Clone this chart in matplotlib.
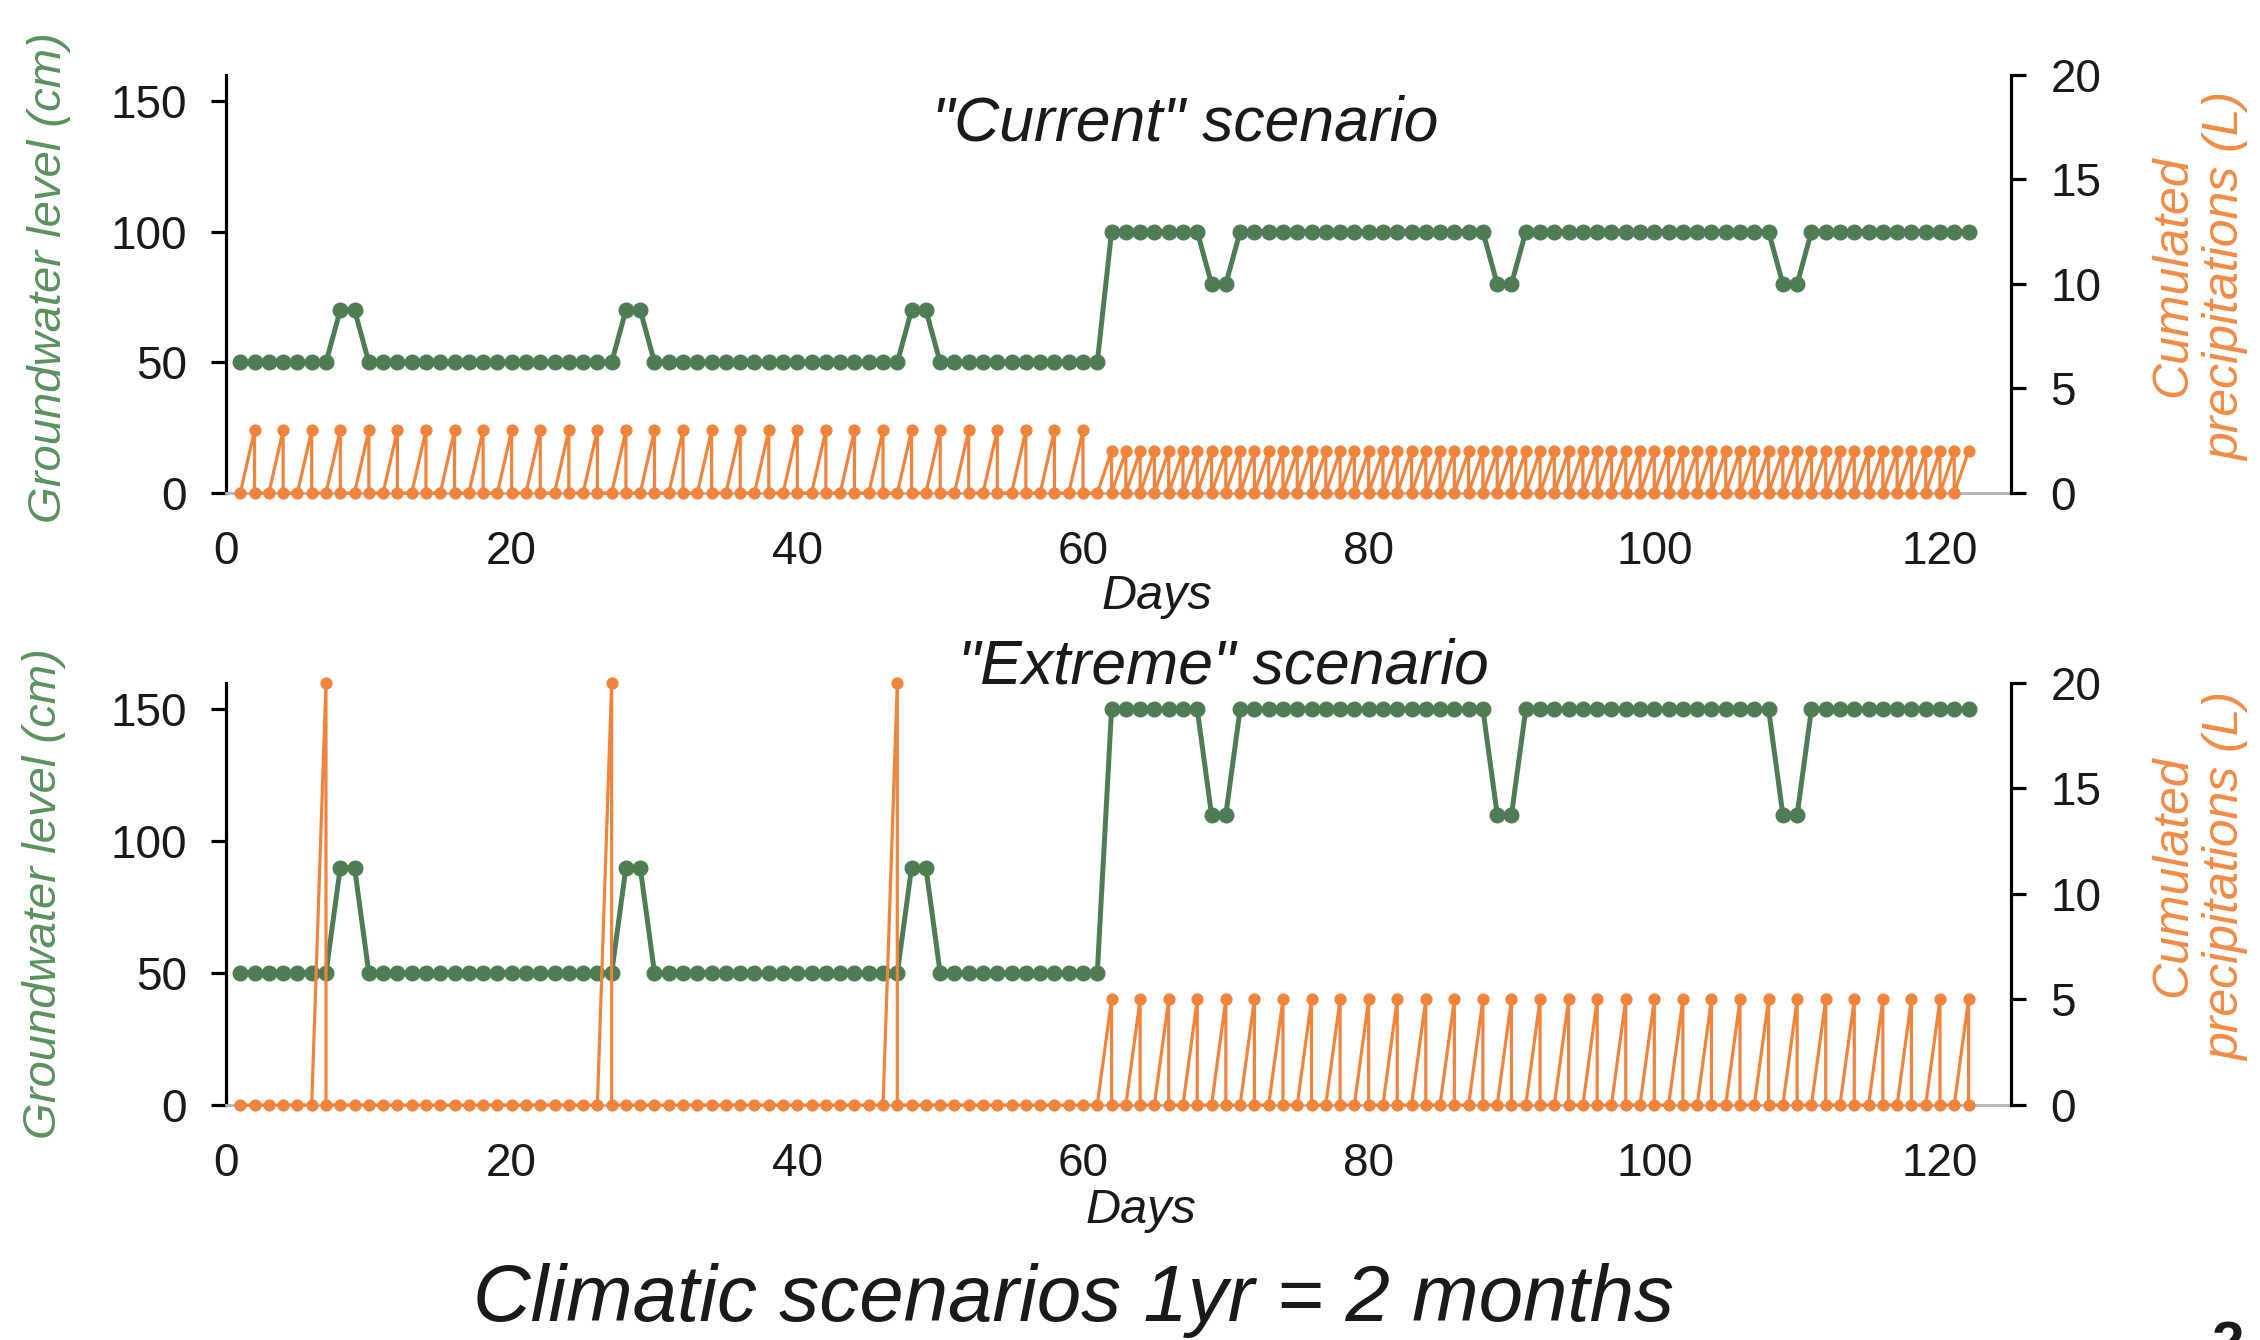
import matplotlib
matplotlib.use('Agg')
import matplotlib.pyplot as plt

plt.rcParams['font.family'] = ['Liberation Sans', 'DejaVu Sans']

# ---------------- data ----------------
days = list(range(1, 123))

current_groundwater = [
    50, 50, 50, 50, 50, 50, 50, 70, 70, 50,
    50, 50, 50, 50, 50, 50, 50, 50, 50, 50,
    50, 50, 50, 50, 50, 50, 50, 70, 70, 50,
    50, 50, 50, 50, 50, 50, 50, 50, 50, 50,
    50, 50, 50, 50, 50, 50, 50, 70, 70, 50,
    50, 50, 50, 50, 50, 50, 50, 50, 50, 50,
    50, 100, 100, 100, 100, 100, 100, 100, 80, 80,
    100, 100, 100, 100, 100, 100, 100, 100, 100, 100,
    100, 100, 100, 100, 100, 100, 100, 100, 80, 80,
    100, 100, 100, 100, 100, 100, 100, 100, 100, 100,
    100, 100, 100, 100, 100, 100, 100, 100, 80, 80,
    100, 100, 100, 100, 100, 100, 100, 100, 100, 100,
    100, 100,
]

current_precip = [
    0, 3, 0, 3, 0, 3, 0, 3, 0, 3,
    0, 3, 0, 3, 0, 3, 0, 3, 0, 3,
    0, 3, 0, 3, 0, 3, 0, 3, 0, 3,
    0, 3, 0, 3, 0, 3, 0, 3, 0, 3,
    0, 3, 0, 3, 0, 3, 0, 3, 0, 3,
    0, 3, 0, 3, 0, 3, 0, 3, 0, 3,
    0, 2, 2, 2, 2, 2, 2, 2, 2, 2,
    2, 2, 2, 2, 2, 2, 2, 2, 2, 2,
    2, 2, 2, 2, 2, 2, 2, 2, 2, 2,
    2, 2, 2, 2, 2, 2, 2, 2, 2, 2,
    2, 2, 2, 2, 2, 2, 2, 2, 2, 2,
    2, 2, 2, 2, 2, 2, 2, 2, 2, 2,
    2, 2,
]

extreme_groundwater = [
    50, 50, 50, 50, 50, 50, 50, 90, 90, 50,
    50, 50, 50, 50, 50, 50, 50, 50, 50, 50,
    50, 50, 50, 50, 50, 50, 50, 90, 90, 50,
    50, 50, 50, 50, 50, 50, 50, 50, 50, 50,
    50, 50, 50, 50, 50, 50, 50, 90, 90, 50,
    50, 50, 50, 50, 50, 50, 50, 50, 50, 50,
    50, 150, 150, 150, 150, 150, 150, 150, 110, 110,
    150, 150, 150, 150, 150, 150, 150, 150, 150, 150,
    150, 150, 150, 150, 150, 150, 150, 150, 110, 110,
    150, 150, 150, 150, 150, 150, 150, 150, 150, 150,
    150, 150, 150, 150, 150, 150, 150, 150, 110, 110,
    150, 150, 150, 150, 150, 150, 150, 150, 150, 150,
    150, 150,
]

extreme_precip = [
    0, 0, 0, 0, 0, 0, 20, 0, 0, 0,
    0, 0, 0, 0, 0, 0, 0, 0, 0, 0,
    0, 0, 0, 0, 0, 0, 20, 0, 0, 0,
    0, 0, 0, 0, 0, 0, 0, 0, 0, 0,
    0, 0, 0, 0, 0, 0, 20, 0, 0, 0,
    0, 0, 0, 0, 0, 0, 0, 0, 0, 0,
    0, 5, 0, 5, 0, 5, 0, 5, 0, 5,
    0, 5, 0, 5, 0, 5, 0, 5, 0, 5,
    0, 5, 0, 5, 0, 5, 0, 5, 0, 5,
    0, 5, 0, 5, 0, 5, 0, 5, 0, 5,
    0, 5, 0, 5, 0, 5, 0, 5, 0, 5,
    0, 5, 0, 5, 0, 5, 0, 5, 0, 5,
    0, 5,
]

x_ticks = [0, 20, 40, 60, 80, 100, 120]
gw_ticks = [0, 50, 100, 150]
pr_ticks = [0, 5, 10, 15, 20]

# ---------------- style ----------------
GREEN = '#4e7d55'
GREEN_TXT = '#5b9161'
ORANGE = '#f0843c'
ORANGE_TXT = '#f28b45'
GRAY = '#b4b4b4'
TXT = '#1a1a1a'
TICK_FS = 33


def reset_path(x, values, reset_last):
    """Cumulated precipitation resets to 0 right after each rain event."""
    xs, ys = [], []
    n = len(x)
    for i, (d, v) in enumerate(zip(x, values)):
        xs.append(d)
        ys.append(v)
        if v > 0 and (i < n - 1 or reset_last):
            xs.append(d)
            ys.append(0)
    return xs, ys


fig = plt.figure(figsize=(22.6, 13.4), dpi=100)


def panel(rect, gw, pr, reset_last):
    ax = fig.add_axes(rect)
    ax.plot(days, gw, color=GREEN, lw=3.6, marker='o', ms=10.5, clip_on=False, zorder=3)
    ax.set_xlim(0, 125)
    ax.set_ylim(0, 160)
    ax.set_xticks(x_ticks)
    ax.set_yticks(gw_ticks)
    for s in ('top', 'right'):
        ax.spines[s].set_visible(False)
    ax.spines['bottom'].set_color(GRAY)
    ax.spines['bottom'].set_linewidth(2.0)
    ax.spines['left'].set_color('black')
    ax.spines['left'].set_linewidth(2.3)
    ax.tick_params(axis='x', length=0, pad=27, labelsize=TICK_FS, labelcolor=TXT)
    ax.tick_params(axis='y', direction='out', length=11, width=2.3, pad=17,
                   labelsize=TICK_FS, labelcolor=TXT)

    axr = ax.twinx()
    xs, ys = reset_path(days, pr, reset_last)
    axr.plot(xs, ys, color=ORANGE, lw=2.3, marker='o', ms=7.8, clip_on=False, zorder=3)
    axr.set_ylim(0, 20)
    axr.set_yticks(pr_ticks)
    for s in ('top', 'left', 'bottom'):
        axr.spines[s].set_visible(False)
    axr.spines['right'].set_color('black')
    axr.spines['right'].set_linewidth(2.3)
    axr.tick_params(axis='y', direction='out', length=11, width=2.3, pad=17,
                    labelsize=TICK_FS, labelcolor=TXT)
    return ax, axr


panel([0.1, 0.6321, 0.79, 0.312], current_groundwater, current_precip, False)
panel([0.1, 0.1754, 0.79, 0.315], extreme_groundwater, extreme_precip, True)

# titles and labels
fig.text(0.5243, 0.9075, '"Current" scenario', ha='center', va='center',
         fontsize=45, style='italic', color=TXT)
fig.text(0.5412, 0.5022, '"Extreme" scenario', ha='center', va='center',
         fontsize=45, style='italic', color=TXT)
fig.text(0.512, 0.5545, 'Days', ha='center', va='center',
         fontsize=35, style='italic', color=TXT)
fig.text(0.5049, 0.0965, 'Days', ha='center', va='center',
         fontsize=35, style='italic', color=TXT)

fig.text(0.0215, 0.793, 'Groundwater level (cm)', rotation=90, ha='center', va='center',
         fontsize=34, style='italic', color=GREEN_TXT)
fig.text(0.0195, 0.333, 'Groundwater level (cm)', rotation=90, ha='center', va='center',
         fontsize=34, style='italic', color=GREEN_TXT)

fig.text(0.9735, 0.7935, 'Cumulated\nprecipitations (L)', rotation=90, ha='center',
         va='center', multialignment='center', linespacing=1.2,
         fontsize=36, style='italic', color=ORANGE_TXT)
fig.text(0.9735, 0.346, 'Cumulated\nprecipitations (L)', rotation=90, ha='center',
         va='center', multialignment='center', linespacing=1.2,
         fontsize=36, style='italic', color=ORANGE_TXT)

fig.text(0.4748, 0.0295, 'Climatic scenarios 1yr = 2 months', ha='center', va='center',
         fontsize=57.5, style='italic', color=TXT)

# partially visible page number at the bottom-right corner
fig.text(0.9858, 1 - 1320 / 1340, '2', ha='center', va='top',
         fontsize=42, fontweight='bold', color=TXT)

fig.savefig('out.png', dpi=100)
